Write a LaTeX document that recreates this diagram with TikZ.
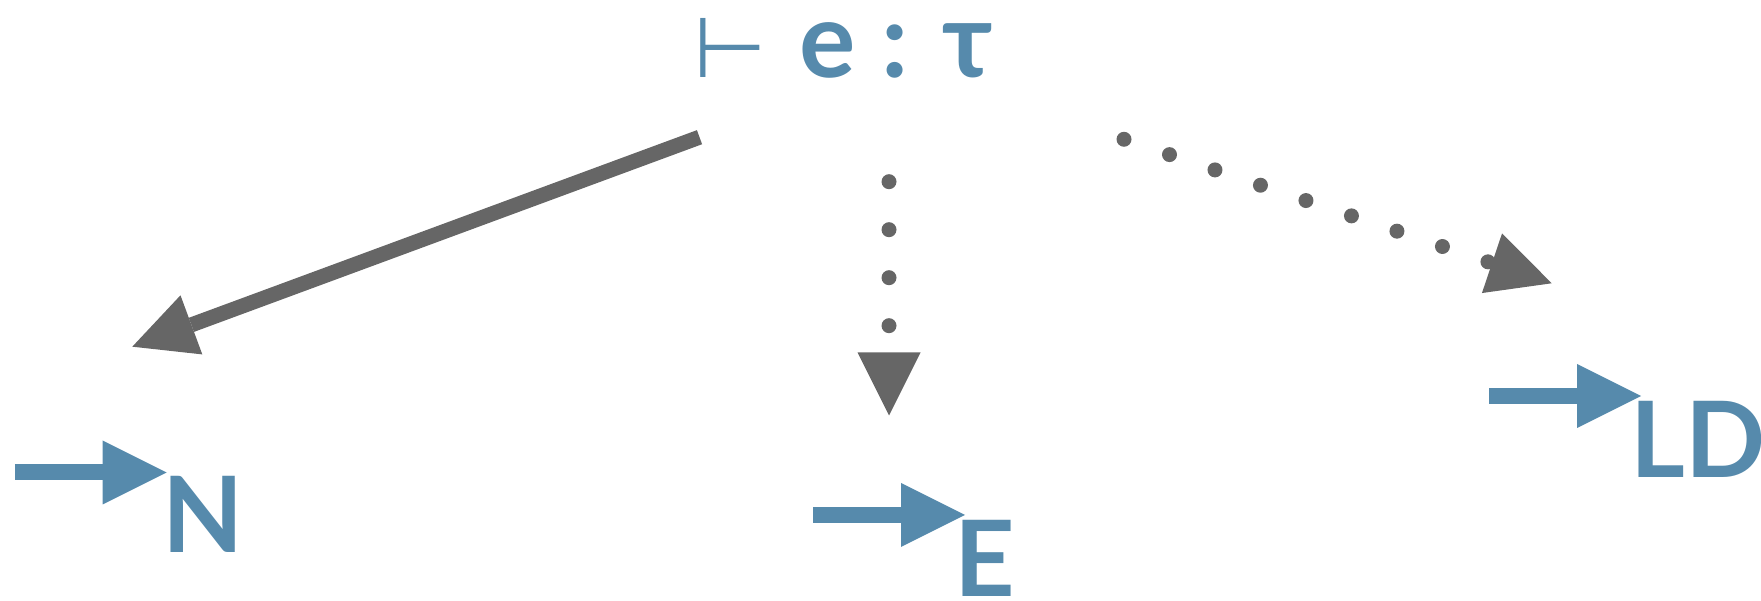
\documentclass[tikz,border=0pt]{standalone}
\usepackage{fontspec}
\setmainfont{Lato}
\newfontfamily\symfont{DejaVu Sans}
\usepackage{tikz}
\usetikzlibrary{arrows.meta, positioning}

\definecolor{relblue}{HTML}{568AAC}
\definecolor{derivgray}{HTML}{666666}

\newcommand{\bigfont}{\fontsize{30}{36}\selectfont\bfseries}

\begin{document}
\begin{tikzpicture}[
    judg/.style={text=relblue, font=\bigfont, inner sep=0pt, anchor=base},
    rule/.style={text=relblue, font=\bigfont, inner sep=0pt, anchor=base west},
    rel/.style={draw=relblue, line width=0.16cm,
                -{Triangle[length=0.64cm, width=0.64cm, line width=0pt]}},
    deriv/.style={draw=derivgray, line width=0.15cm,
                  -{Triangle[length=0.63cm, width=0.63cm, line width=0pt]}},
    dotderiv/.style={deriv, line cap=round, dash pattern=on 0pt off 0.48cm},
]
\useasboundingbox (0,0) rectangle (17.61,6.01);

% judgement on top
\node[judg] (goal) at (8.432,5.233)
    {{\symfont\mdseries\fontsize{24}{28}\selectfont ⊢}\hspace{0.07cm} e : τ};

% reduction arrows with their subscripts
\draw[rel] (0.15,1.285) -- (1.667,1.285);
\node[rule] (N) at (1.62,0.483) {N};
\draw[rel] (8.13,0.86) -- (9.65,0.86);
\node[rule] (E) at (9.54,0.04) {E};
\draw[rel] (14.89,2.05) -- (16.41,2.05);
\node[rule] (LD) at (16.30,1.233) {LD};

% ends of the derivation edges
\coordinate (sN)  at (6.995,4.638);
\coordinate (tN)  at (1.323,2.543);
\coordinate (sE)  at (8.89,4.193);
\coordinate (tE)  at (8.89,1.855);
\coordinate (sLD) at (11.24,4.617);
\coordinate (tLD) at (15.517,3.177);

\draw[deriv] (sN) -- (tN);
\draw[dotderiv] (sE) -- (tE);
\draw[dotderiv] (sLD) -- (tLD);
\end{tikzpicture}
\end{document}
